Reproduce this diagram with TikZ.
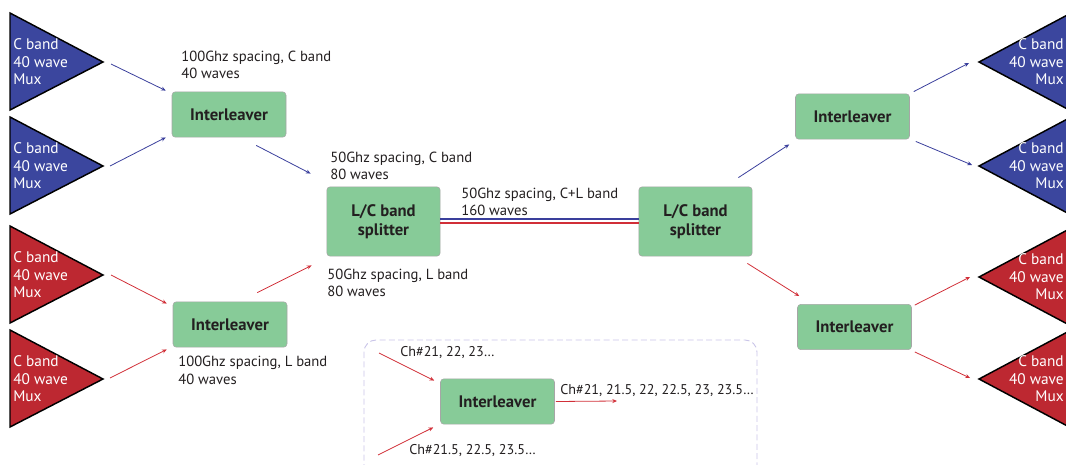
\documentclass[tikz,border=0pt]{standalone}
\usepackage{fontspec}
\setmainfont{PT Sans}
\usetikzlibrary{arrows.meta}
\definecolor{muxblue}{HTML}{3B469E}
\definecolor{muxred}{HTML}{BD2831}
\definecolor{lineblue}{HTML}{3A3F9C}
\definecolor{linered}{HTML}{D12F38}
\definecolor{boxgreen}{HTML}{87CB98}
\definecolor{framelilac}{HTML}{C9C4E8}
\definecolor{inktext}{HTML}{231F20}
\tikzset{basic/.style={draw=gray!70,fill=boxgreen,rounded corners=2.5pt,font=\fontsize{12.5}{14.5}\selectfont\bfseries,text=inktext,align=center,inner sep=0pt}}
\tikzset{ilv/.style={basic,minimum width=85.5pt,minimum height=34pt}}
\tikzset{splitter/.style={basic,minimum width=85pt,minimum height=52pt}}
\tikzset{mux/.style={draw=black,line width=1.1pt,line join=miter}}
\tikzset{muxtext/.style={text=white,inner sep=0pt,font=\fontsize{11.5}{13.1}\selectfont}}
\tikzset{info/.style={anchor=west,align=left,inner sep=0pt,text=inktext}}
\tikzset{chinfo/.style={info,font=\fontsize{10.6}{13}\selectfont}}
\tikzset{arrow/.style={draw,line width=0.6pt,-{Stealth[length=3.5pt,width=3pt]}}}
\tikzset{barrow/.style={arrow,lineblue}}
\tikzset{rarrow/.style={arrow,linered}}

\begin{document}
\begin{tikzpicture}[x=0.75pt,y=-0.75pt,font=\fontsize{11}{13}\selectfont]
    \useasboundingbox (0,0) rectangle (1066,464);

    % muxes on the left
    \foreach \n/\y/\c in {1/62/muxblue,2/166/muxblue,3/275/muxred,4/379/muxred}{
        \draw[mux,fill=\c] (10,\y-49) -- (103,\y) -- (10,\y+48) -- cycle;
        \coordinate (m\n) at (103,\y);
        \node[muxtext,anchor=west,align=left] (mt\n) at (13,\y) {C band\\40 wave\\Mux};
    }
    % muxes on the right
    \foreach \n/\y/\c in {5/62/muxblue,6/166/muxblue,7/277/muxred,8/379/muxred}{
        \draw[mux,fill=\c] (1073,\y-50) -- (979,\y) -- (1073,\y+50) -- cycle;
        \coordinate (m\n) at (979,\y);
        \node[muxtext,anchor=east,align=right] (mt\n) at (1064,\y) {C band\\40 wave\\Mux};
    }

    \node[ilv] (il1) at (229,114.5) {Interleaver};
    \node[ilv] (il2) at (230,324.5) {Interleaver};
    \node[splitter] (spl1) at (383.5,221.5) {L/C band\\splitter};
    \node[splitter] (spl2) at (695.5,221.5) {L/C band\\splitter};
    \node[ilv] (il3) at (852.5,116.5) {Interleaver};
    \node[ilv] (il4) at (854.5,327) {Interleaver};

    \node[info] (lc100) at (181,65) {100Ghz spacing, C band\\40 waves};
    \node[info] (ll100) at (178,370.5) {100Ghz spacing, L band\\40 waves};
    \node[info] (lc50) at (330,166) {50Ghz spacing, C band\\80 waves};
    \node[info] (ll50) at (327,283) {50Ghz spacing, L band\\80 waves};
    \node[info] (lcl50) at (461,202) {50Ghz spacing, C+L band\\160 waves};

        \path[barrow] ([shift={(8,2)}]m1) -- ([shift={(-6,-1)}]il1.north west);
        \path[barrow] ([shift={(7,0)}]m2) -- ([shift={(-6,0)}]il1.south west);
        \path[rarrow] ([shift={(8,0)}]m3) -- ([shift={(-6,2)}]il2.north west);
        \path[rarrow] ([shift={(7,-1)}]m4) -- ([shift={(-6,2)}]il2.south west);
        \path[barrow] ([shift={(-30,8)}]il1.south east) -- ([shift={(-16,-13)}]spl1.north west);
        \path[rarrow] ([shift={(-30,-9)}]il2.north east) -- ([shift={(-15,9)}]spl1.south west);

        \path[draw,lineblue,line width=1.1pt] ([shift={(0,-2.5)}]spl1.east) -- ([shift={(0,-2.5)}]spl2.west);
        \path[draw,linered,line width=1.1pt] ([shift={(0,1.5)}]spl1.east) -- ([shift={(0,1.5)}]spl2.west);

        \path[barrow] ([shift={(-14,-9)}]spl2.north east) -- ([shift={(-6,5)}]il3.south west);
        \path[rarrow] ([shift={(-5,7)}]spl2.south east) -- ([shift={(2,-8)}]il4.north west);
        \path[barrow] ([shift={(4,-2)}]il3.north east) -- ([shift={(-10,1)}]m5);
        \path[barrow] ([shift={(6,2)}]il3.south east) -- ([shift={(-7,-1)}]m6);
        \path[rarrow] ([shift={(3,1)}]il4.north east) -- ([shift={(-9,0)}]m7);
        \path[rarrow] ([shift={(3,2)}]il4.south east) -- ([shift={(-9,-1)}]m8);

    % inset: how the interleaver merges channels
    \draw[framelilac,line width=0.7pt,dash pattern=on 4.5pt off 2.5pt,rounded corners=9pt] (364,340) rectangle (757,485);
    \node[ilv] (il5) at (497.5,401.5) {Interleaver};
    \coordinate (in1) at (379,353);
    \coordinate (in2) at (378,455);
    \coordinate (out1) at (617,401);
    \node[chinfo] (ch1) at (400,353) {Ch\#21, 22, 23…};
    \node[chinfo] (ch2) at (409,451) {Ch\#21.5, 22.5, 23.5…};
    \node[chinfo] (ch3) at (560,391) {Ch\#21, 21.5, 22, 22.5, 23, 23.5…};

        \path[rarrow] (in1) -- ([shift={(-6,2)}]il5.north west);
        \path[rarrow] (in2) -- ([shift={(-7,3)}]il5.south west);
        \path[rarrow] ([shift={(1,0)}]il5.east) -- (out1);
  \end{tikzpicture}
\end{document}
